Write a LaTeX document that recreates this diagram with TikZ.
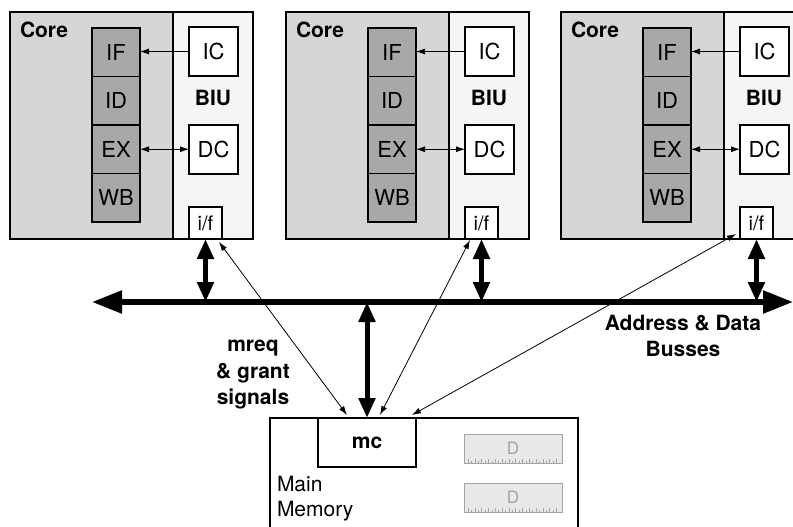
\documentclass[tikz,border=0pt]{standalone}
\usepackage{fontspec}
\setmainfont{TeX Gyre Heros}
\usetikzlibrary{arrows.meta,positioning}
\definecolor{coregray}{HTML}{D6D6D6}
\definecolor{biugray}{HTML}{F4F5F4}
\definecolor{stagegray}{HTML}{A8A8A8}
\definecolor{dimmfill}{HTML}{E8E8E8}
\definecolor{dimmline}{HTML}{A4A4A4}
\begin{document}
\begin{tikzpicture}
  [x=1pt,y=-1pt,
   every node/.style={font=\fontsize{22}{26}\selectfont,inner sep=0pt,outer sep=0pt},
   region/.style={draw,line width=1.1pt,anchor=north west,minimum height=227pt},
   stage/.style={draw,line width=1.1pt,fill=stagegray,minimum width=48pt,minimum height=48.5pt},
   cache/.style={draw,line width=1.1pt,fill=white,minimum width=49pt,minimum height=49pt,anchor=north west},
   lbl/.style={font=\fontsize{21}{26.5}\selectfont\bfseries,align=center},
   dimm/.style={draw=dimmline,line width=0.8pt,fill=dimmfill,text=dimmline,minimum width=98pt,minimum height=29pt,anchor=north west,font=\fontsize{17}{20}\selectfont},
   sig/.style={{Latex[length=9pt,width=6pt]}-{Latex[length=9pt,width=6pt]},line width=0.8pt},
   fat/.style={{Triangle[length=20pt,width=16pt]}-{Triangle[length=20pt,width=16pt]},line width=5pt},
   bus/.style={{Triangle[length=30pt,width=22pt]}-{Triangle[length=30pt,width=22pt]},line width=5.5pt}]
  \clip (0,0) rectangle (793,527);
  \coordinate (busL) at (92,302);
  \coordinate (busR) at (793,302);
  \foreach \i/\dx in {1/0,2/276,3/551}{
    \node[region,fill=coregray,minimum width=163pt] (core\i) at (10+\dx,12) {};
    \node[region,fill=biugray,minimum width=80pt] (biu\i) at (173+\dx,12) {};
    \node[lbl,anchor=base west] (corename\i) at (20+\dx,38) {Core};
    \node[lbl] (biuname\i) at (213+\dx,98) {BIU};
    \node[stage,anchor=north west] (if\i) at (92+\dx,28) {IF};
    \node[stage,below=0pt of if\i] (id\i) {ID};
    \node[stage,below=0pt of id\i] (ex\i) {EX};
    \node[stage,below=0pt of ex\i] (wb\i) {WB};
    \node[cache] (ic\i) at (189+\dx,27) {IC};
    \node[cache] (dc\i) at (189+\dx,125) {DC};
    \node[cache,minimum width=33pt,minimum height=32pt,font=\fontsize{20}{24}\selectfont] (port\i) at (189+\dx,207) {i/f};
    \draw[-{Latex[length=9pt,width=6pt]},line width=0.8pt] (ic\i.west) -- (ic\i.west -| if\i.east);
    \draw[sig] (ex\i.east) -- (ex\i.east -| dc\i.west);
    \draw[fat] (port\i.south) -- (port\i.south |- busL);
  }
  \draw[bus] (busL) -- (busR);
  \node[region,minimum width=308pt,minimum height=125pt] (mem) at (270,418) {};
  \node[draw,line width=1.1pt,fill=white,minimum width=98pt,minimum height=49pt,anchor=north west,lbl] (mc) at (318,418) {mc};
  \node[anchor=west,align=left,font=\fontsize{21}{25}\selectfont] (memname) at (277,499) {Main\\Memory};
  \foreach \d/\y in {1/434,2/483}{
    \node[dimm] (dimm\d) at (464,\y) {D};
    \foreach \k [evaluate=\k as \tl using {mod(\k,2)==0 ? 4 : 2.5}] in {0,...,26}
      \draw[dimmline,line width=0.6pt] ([xshift=4pt+3.4pt*\k]dimm\d.south west) -- ++(0,-\tl);
  }
  \draw[fat] (mc.north |- busL) -- (mc.north);
  \draw[sig] ([xshift=-3pt,yshift=-3pt]port1.south east) -- ([xshift=29pt,yshift=3pt]mc.north west);
  \draw[sig] ([xshift=5pt,yshift=-1pt]port2.south west) -- ([xshift=62pt,yshift=3pt]mc.north west);
  \draw[sig] ([xshift=-4pt,yshift=5pt]port3.south west) -- ([xshift=94pt,yshift=3pt]mc.north west);
  \node[lbl] (sigtext) at (253,375) {mreq\\\& grant\\signals};
  \node[lbl] (bustext) at (683,336) {Address \& Data\\Busses};
\end{tikzpicture}
\end{document}
